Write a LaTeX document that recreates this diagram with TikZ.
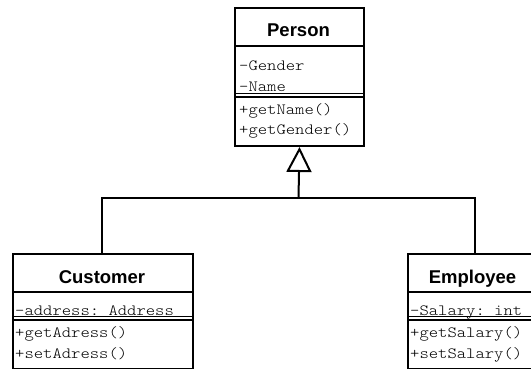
\documentclass[tikz,border=0pt]{standalone}
\usepackage{fontspec}
\setmainfont{Liberation Sans}
\setmonofont{lmmonolt10-regular.otf}[FakeStretch=1.14]
\usetikzlibrary{arrows.meta}
\begin{document}
\begin{tikzpicture}[x=1pt,y=-1pt,
  classbox/.style={draw, line width=2pt, anchor=north west, inner sep=0pt},
  classname/.style={anchor=base, font=\bfseries\fontsize{18.5}{18.5}\selectfont, inner sep=0pt},
  member/.style={anchor=base west, font=\ttfamily\fontsize{15.6}{15.6}\selectfont, inner sep=0pt},
  divider/.style={line width=2pt},
  hairline/.style={line width=0.8pt},
  link/.style={line width=2pt},
  inherit/.style={link, -{Triangle[open, length=25pt, width=25pt, line width=2pt]}}]
\useasboundingbox (0,0) rectangle (531,369);
\clip (0,0) rectangle (531,369);

% Person
\node[classbox, minimum width=129pt, minimum height=138pt] (person) at (234,7) {};
\node[classname] (personname) at (298.5,37) {Person};
\draw[divider] (234,46) -- (363,46);
\node[member] (pgender) at (239,71) {-Gender};
\node[member] (pname) at (239,92) {-Name};
\draw[hairline] (234,93) -- (363,93);
\draw[divider] (234,97) -- (363,97);
\node[member] (pgetname) at (239,114) {+getName()};
\node[member] (pgetgender) at (239,135) {+getGender()};

% Customer
\node[classbox, minimum width=180pt, minimum height=115pt] (customer) at (12,253) {};
\node[classname] (customername) at (102,283) {Customer};
\draw[divider] (12,292) -- (192,292);
\node[member] (caddress) at (15,315) {-address: Address};
\draw[hairline] (12,316) -- (192,316);
\draw[divider] (12,320) -- (192,320);
\node[member] (cget) at (15,337) {+getAdress()};
\node[member] (cset) at (15,358) {+setAdress()};

% Employee
\node[classbox, minimum width=131pt, minimum height=115pt] (employee) at (407,253) {};
\node[classname] (employeename) at (472.5,283) {Employee};
\draw[divider] (407,292) -- (538,292);
\node[member] (esalary) at (410,315) {-Salary: int};
\draw[hairline] (407,316) -- (538,316);
\draw[divider] (407,320) -- (538,320);
\node[member] (eget) at (410,337) {+getSalary()};
\node[member] (eset) at (410,358) {+setSalary()};

% Generalisation
\coordinate (join) at (298.5,198);
\draw[link] (customer.north -| 102,0) |- (join);
\draw[link] (join) -| (employee.north -| 475,0);
\draw[inherit] (join) -- (person.south);
\end{tikzpicture}
\end{document}
